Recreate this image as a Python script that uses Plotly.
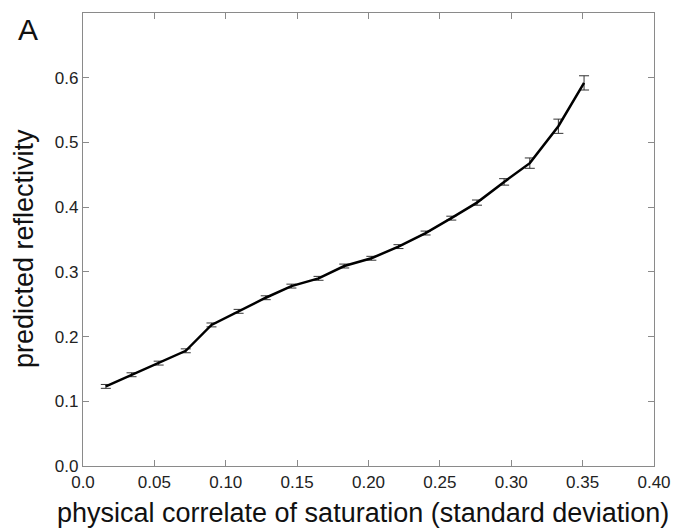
import plotly.graph_objects as go

# Data
x_sat = [0.016, 0.034, 0.053, 0.072, 0.090, 0.109, 0.128, 0.146, 0.165, 0.183,
         0.202, 0.221, 0.240, 0.258, 0.276, 0.295, 0.313, 0.333, 0.351]
y_refl = [0.123, 0.141, 0.159, 0.178, 0.218, 0.239, 0.260, 0.278, 0.290, 0.309,
          0.321, 0.339, 0.360, 0.383, 0.407, 0.439, 0.468, 0.525, 0.592]
y_err = [0.003, 0.003, 0.003, 0.003, 0.003, 0.003, 0.003, 0.003, 0.003, 0.003,
         0.003, 0.003, 0.003, 0.003, 0.004, 0.005, 0.008, 0.011, 0.011]

x_tickvals = [0.0, 0.05, 0.10, 0.15, 0.20, 0.25, 0.30, 0.35, 0.40]
x_ticktext = ["0.0", "0.05", "0.10", "0.15", "0.20", "0.25", "0.30", "0.35", "0.40"]
y_tickvals = [0.0, 0.1, 0.2, 0.3, 0.4, 0.5, 0.6, 0.7]
y_ticktext = ["0.0", "0.1", "0.2", "0.3", "0.4", "0.5", "0.6", ""]

FONT = "Liberation Sans, Arial, Helvetica, sans-serif"
AXC = "#8a8a8a"

fig = go.Figure()
fig.add_trace(go.Scatter(
    x=x_sat, y=y_refl, mode="lines",
    line=dict(color="black", width=2.5),
    error_y=dict(type="data", array=y_err, visible=True,
                 color="#333333", thickness=1, width=5),
    showlegend=False,
))

axis_common = dict(
    showline=True, linecolor=AXC, linewidth=1.3, mirror="ticks",
    ticks="inside", ticklen=6, tickwidth=1.2, tickcolor=AXC,
    showgrid=False, zeroline=False,
    tickfont=dict(family=FONT, size=17, color="#222222"),
)

fig.update_xaxes(range=[0, 0.4], tickvals=x_tickvals, ticktext=x_ticktext, **axis_common)
fig.update_yaxes(range=[0, 0.7], tickvals=y_tickvals, ticktext=y_ticktext, **axis_common)

L, R, T, B = 83.3, 25.3, 13.3, 64.3
pw = 683 - L - R
ph = 530 - T - B

fig.update_layout(
    width=683, height=530,
    margin=dict(l=L, r=R, t=T, b=B),
    paper_bgcolor="white", plot_bgcolor="white",
    font=dict(family=FONT, color="#111111"),
    annotations=[
        dict(text="physical correlate of saturation (standard deviation)",
             xref="paper", yref="paper", x=0.5 - 5.5 / pw, y=-(513 - (530 - B)) / ph,
             xanchor="center", yanchor="middle", showarrow=False,
             font=dict(family=FONT, size=27, color="#111111")),
        dict(text="predicted reflectivity",
             xref="paper", yref="paper", x=-(L - 24) / pw, y=0.5 - 9.5 / ph,
             xanchor="center", yanchor="middle", showarrow=False, textangle=-90,
             font=dict(family=FONT, size=27, color="#111111")),
        dict(text="A",
             xref="paper", yref="paper", x=-(L - 28) / pw, y=1 - (29.7 - T) / ph,
             xanchor="center", yanchor="middle", showarrow=False,
             font=dict(family=FONT, size=30, color="#111111")),
    ],
)

fig.write_html("out.html")
